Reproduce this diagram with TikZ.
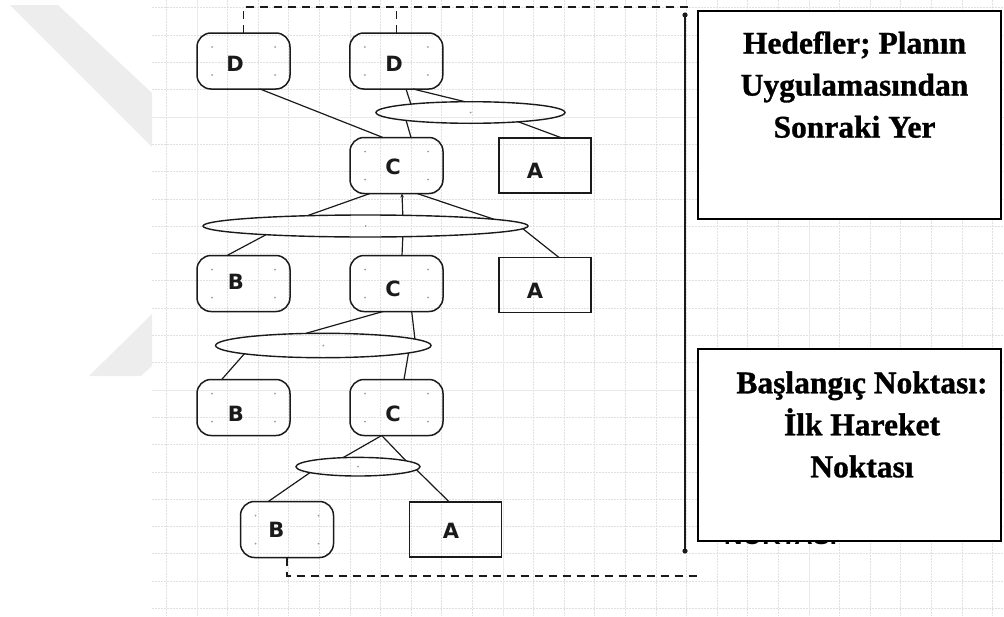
\documentclass[tikz,border=0pt]{standalone}
\usepackage{fontspec}
\setmainfont{Liberation Serif}[BoldFeatures={FakeBold=1}]
\newfontfamily\labelfont{DejaVu Sans}
\newfontfamily\capsfont{Liberation Sans}
\usetikzlibrary{shapes.geometric,arrows.meta,calc}

\definecolor{ink}{HTML}{1A1A1A}
\definecolor{gridminor}{HTML}{E0E0E0}
\definecolor{gridmajor}{HTML}{EAEAEA}
\definecolor{wmgray}{HTML}{EDEDED}
\definecolor{pinhole}{HTML}{9A9A9A}

\tikzset{
  state/.style={draw=ink, line width=1.5pt, rounded corners=14pt,
    minimum width=93pt, minimum height=56pt, inner sep=0pt, outer sep=0pt},
  goal/.style={draw=ink, line width=1.5pt,
    minimum width=92pt, minimum height=55pt, inner sep=0pt, outer sep=0pt},
  joint/.style={ellipse, draw=ink, line width=1.4pt, inner sep=0pt, outer sep=0pt},
  letter/.style={font=\labelfont\bfseries\fontsize{21}{25}\selectfont, text=ink},
  link/.style={draw=ink, line width=1.2pt},
  guide/.style={draw=ink, line width=1.3pt, dash pattern=on 8pt off 6pt},
  note/.style={draw=black, line width=2pt, fill=white, inner sep=0pt, outer sep=0pt},
  notetext/.style={font=\bfseries\fontsize{31.5}{42}\selectfont, align=center,
    inner sep=0pt, anchor=north},
  minorline/.style={draw=gridminor, line width=0.8pt, dash pattern=on 1.5pt off 1.5pt},
  majorline/.style={draw=gridmajor, line width=1pt},
}

\begin{document}
\begin{tikzpicture}[x=1pt,y=-1pt]
\useasboundingbox (0,0) rectangle (1004,616);

% watermark shapes at the left margin
\fill[fill=wmgray] (10,5) -- (58,5) -- (152,93) -- (152,147) -- cycle;
\fill[fill=wmgray] (152,314) -- (89,376) -- (141,376) -- (152,366) -- cycle;

% drawing grid
\foreach \k [evaluate=\k as \y using 117+27.3*\k] in {-4,...,18}
  \draw[minorline] (152,\y) -- (1004,\y);
\foreach \k [evaluate=\k as \x using 197+30.6*\k] in {-1,...,26}
  \draw[minorline] (\x,0) -- (\x,616);
\foreach \y in {117,390} \draw[majorline] (152,\y) -- (1004,\y);
\foreach \x in {197,503,809} \draw[majorline] (\x,0) -- (\x,616);

% states and goals
\node[state, label={[letter,xshift=-8.5pt,yshift=-3pt]center:D}] (d1) at (243.5,61) {};
\node[state, label={[letter,xshift=-2.3pt,yshift=-3pt]center:D}] (d2) at (396.3,61) {};
\node[state, label={[letter,xshift=-3.5pt,yshift=-1.5pt]center:C}] (c1) at (396.5,165.5) {};
\node[goal,  label={[letter,xshift=-10pt,yshift=-5.5pt]center:A}] (a1) at (545,165.5) {};
\node[state, label={[letter,xshift=-7.5pt,yshift=1.5pt]center:B}] (b1) at (243.5,283.5) {};
\node[state, label={[letter,xshift=-3.5pt,yshift=-5.5pt]center:C}] (c2) at (396.5,283.5) {};
\node[goal,  label={[letter,xshift=-10pt,yshift=-6pt]center:A}] (a2) at (545,285) {};
\node[state, label={[letter,xshift=-7.5pt,yshift=-6.5pt]center:B}] (b2) at (243.5,407.5) {};
\node[state, label={[letter,xshift=-3.5pt,yshift=-6.5pt]center:C}] (c3) at (396.5,407.5) {};
\node[state, label={[letter,xshift=-10.5pt,yshift=0pt]center:B}] (b3) at (287,529.5) {};
\node[goal,  label={[letter,xshift=-4.5pt,yshift=-1pt]center:A}] (a3) at (455.5,529.5) {};

% inner corner marks of the rounded states
\foreach \n in {d1,d2,c1,b1,c2,b2,c3,b3} {
  \fill[pinhole] ($(\n.north west)+(15,14)$) circle (1pt);
  \fill[pinhole] ($(\n.north east)+(-15,14)$) circle (1pt);
  \fill[pinhole] ($(\n.south west)+(15,-14)$) circle (1pt);
  \fill[pinhole] ($(\n.south east)+(-15,-14)$) circle (1pt);
}

% joints
\node[joint, minimum width=189pt, minimum height=21.6pt] (e1) at (470.5,112.5) {};
\node[joint, minimum width=325pt, minimum height=22pt] (e2) at (365.5,226) {};
\node[joint, minimum width=215.4pt, minimum height=24.4pt] (e3) at (323.3,345.5) {};
\node[joint, minimum width=124pt, minimum height=18.6pt] (e4) at (358,466.7) {};
\foreach \n in {e1,e2,e3,e4} \fill[pinhole] (\n.center) circle (1pt);

% connectors
\draw[link] ([xshift=16.5pt]d1.south) -- ([xshift=-13.5pt]c1.north);
\draw[link] ([xshift=9.7pt]d2.south) -- (e1.172.6);
\draw[link] ([xshift=16.7pt]d2.south) -- (e1.117);
\draw[link] (e1.187.6) -- ([xshift=14.5pt]c1.north);
\draw[link] (e1.-11.1) -- ([xshift=17pt]a1.north);

\draw[link] ([xshift=-26.5pt]c1.south) -- (e2.170.05);
\draw[link, -{Stealth[length=4pt,width=3.5pt]}] (e2.16.37) -- ([xshift=5.5pt]c1.south);
\draw[link] ([xshift=20.5pt]c1.south) -- (e2.3.70);
\draw[link] (e2.185.16) -- ([xshift=-16.5pt]b1.north);
\draw[link] (e2.-16.37) -- ([xshift=5.5pt]c2.north);
\draw[link] (e2.-1.99) -- ([xshift=14pt]a2.north);

\draw[link] ([xshift=-13.5pt]c2.south) -- (e3.146.7);
\draw[link] ([xshift=15.2pt]c2.south) -- (e3.4.88);
\draw[link] (e3.186.39) -- ([xshift=-21.8pt]b2.north);
\draw[link] (e3.-5.04) -- ([xshift=7.5pt]c3.north);

\draw[link] ([xshift=-14.8pt]c3.south) -- (e4.149.5);
\draw[link] ([xshift=-14.8pt]c3.south) -- (e4.7.7);
\draw[link] (e4.187.0) -- ([xshift=-18.7pt]b3.north);
\draw[link] (e4.-3.96) -- ([xshift=-6.2pt]a3.north);

% dashed brackets
\coordinate (topend) at (692,7);
\coordinate (botend) at (697,576);
\draw[guide] (d1.north) |- (topend);
\draw[guide] (d2.north) -- (d2.north |- topend);
\draw[guide] (b3.south) |- (botend);

% time rail
\coordinate (railtop) at (685,15);
\coordinate (railbot) at (685,551);
\draw[ink, line width=1.2pt] (railtop) -- (railbot);
\fill[ink] (railtop) circle (2.6pt);
\fill[ink] (railbot) circle (2.6pt);

% text boxes
\node[note, minimum width=303pt, minimum height=208pt] (goalbox) at (849.5,115) {};
\node[notetext] (goaltext) at (854.5,31.2) {Hedefler; Planın\\Uygulamasından\\Sonraki Yer};

\node[font=\capsfont\bfseries\fontsize{25.5}{30}\selectfont, anchor=base, inner sep=0pt]
  (hidden) at (780.5,544.5) {NOKTASI};
\node[note, minimum width=303pt, minimum height=192pt] (startbox) at (849.5,445) {};
\node[notetext] (starttext) at (862,371.2) {Başlangıç Noktası:\\İlk Hareket\\Noktası};
\end{tikzpicture}
\end{document}
